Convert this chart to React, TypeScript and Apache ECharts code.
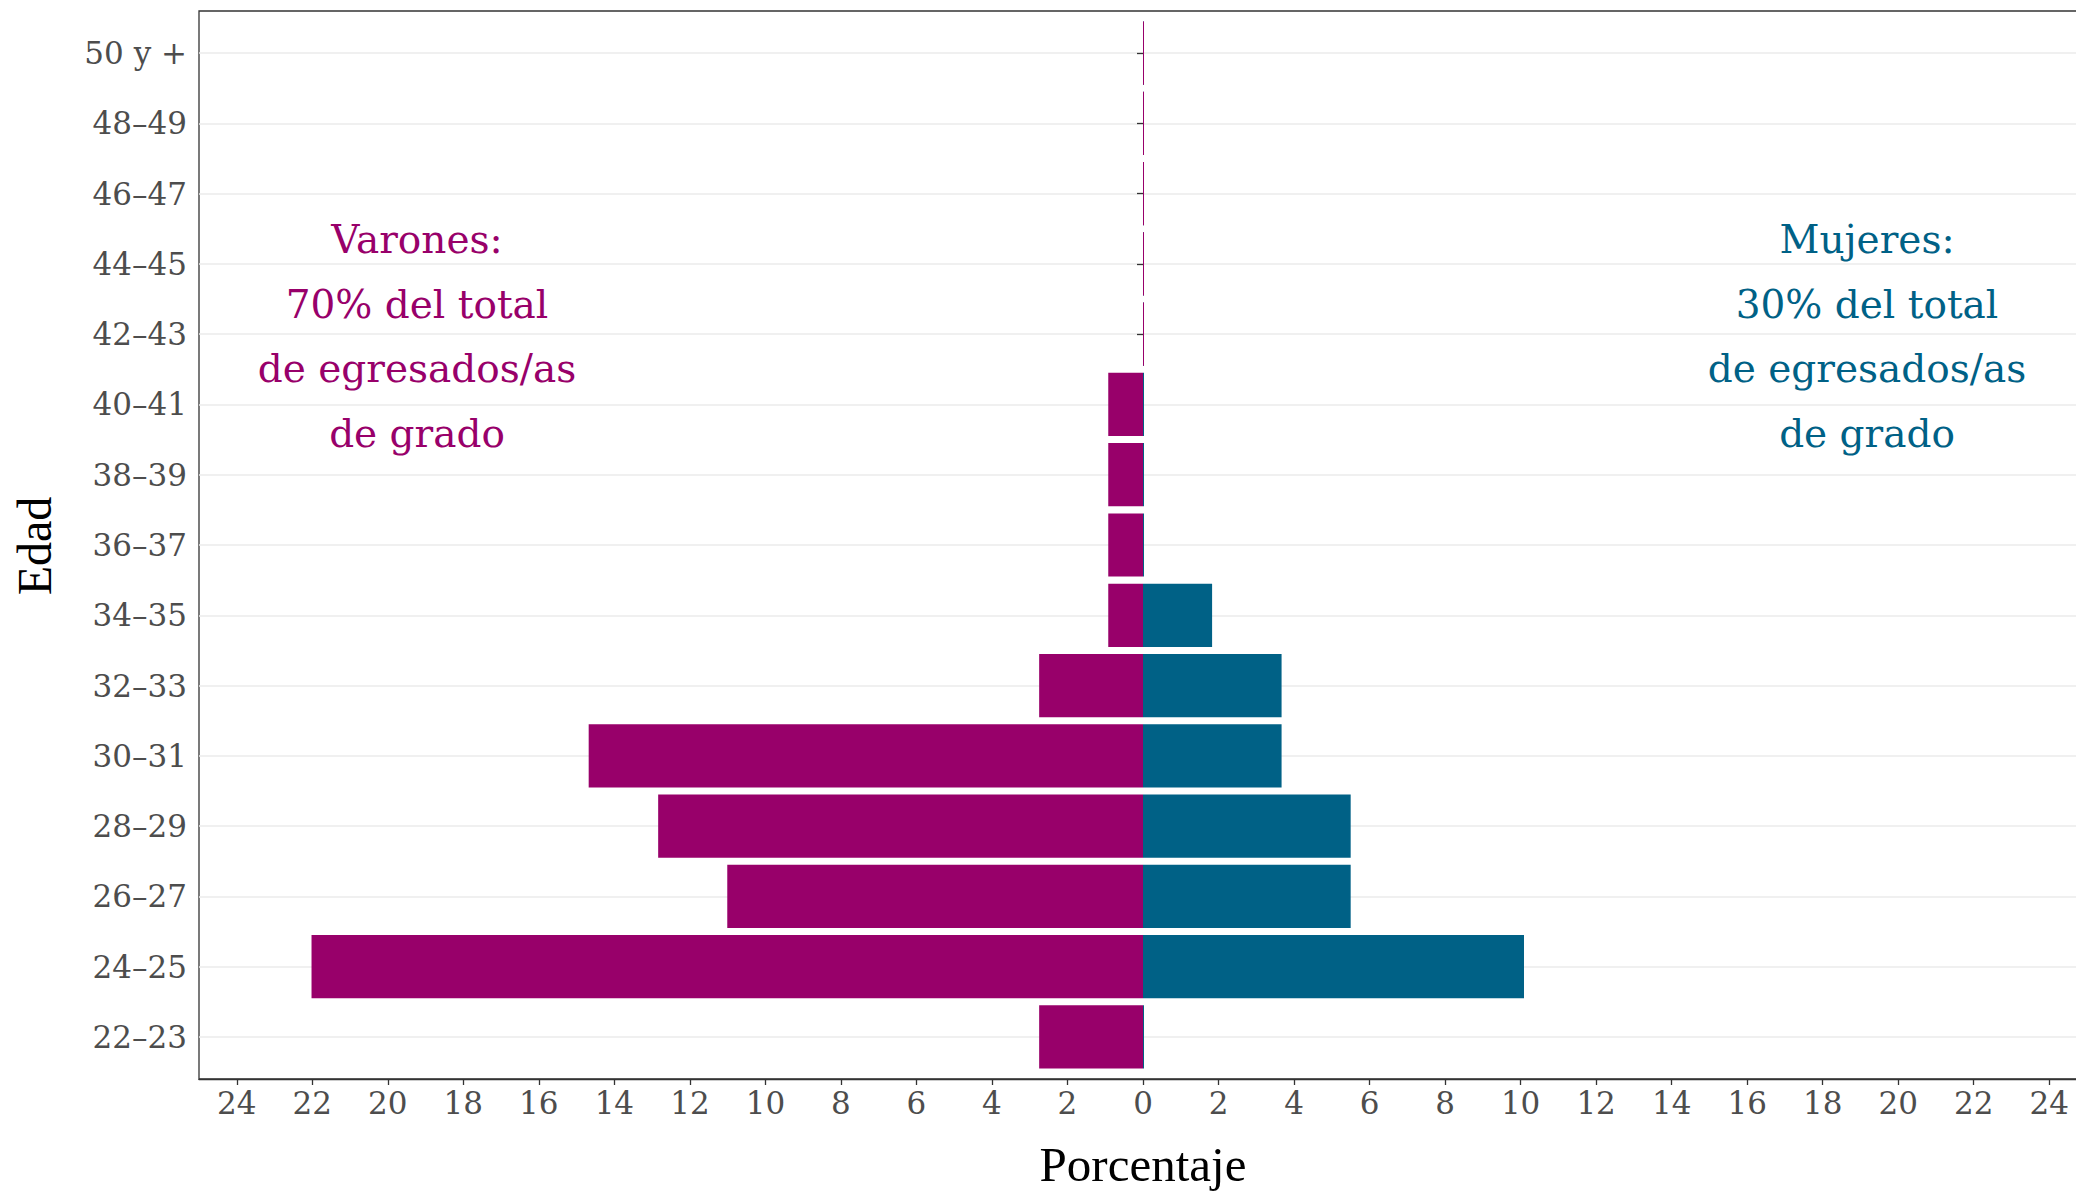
import React, { useEffect, useRef } from "react";
import * as echarts from "echarts";

const ageGroups = [
  "22–23", "24–25", "26–27", "28–29", "30–31", "32–33", "34–35",
  "36–37", "38–39", "40–41", "42–43", "44–45", "46–47", "48–49", "50 y +",
];
const varones = [2.75, 22.02, 11.01, 12.84, 14.68, 2.75, 0.92, 0.92, 0.92, 0.92, 0, 0, 0, 0, 0];
const mujeres = [0, 10.09, 5.5, 5.5, 3.67, 3.67, 1.83, 0, 0, 0, 0, 0, 0, 0, 0];
const xTickValues = [-24, -22, -20, -18, -16, -14, -12, -10, -8, -6, -4, -2, 0, 2, 4, 6, 8, 10, 12, 14, 16, 18, 20, 22, 24];
const annotationVarones = ["Varones:", "70% del total", "de egresados/as", "de grado"];
const annotationMujeres = ["Mujeres:", "30% del total", "de egresados/as", "de grado"];

const MAGENTA = "#98006A";
const TEAL = "#006186";
const TICK_FONT = "DejaVu Serif";
const TITLE_FONT = "Liberation Serif";

const WIDTH = 2092;
const HEIGHT = 1195;

export default function App() {
  const ref = useRef<HTMLDivElement>(null);
  useEffect(() => {
    if (!ref.current) return;
    document.documentElement.style.overflow = "hidden";
    document.body.style.overflow = "hidden";
    const chart = echarts.init(ref.current, null, { renderer: "svg" });
    const frameTop = 11;
    const frameBottom = 116;
    const right = WIDTH - 2087;
    const unit = (HEIGHT - frameTop - frameBottom) / 15.2;
    const labelStyle = { fontFamily: TICK_FONT, fontSize: 31, color: "#4D4D4D" };
    chart.setOption({
      animation: false,
      backgroundColor: "#ffffff",
      grid: [
        { left: 199, right, top: frameTop, bottom: frameBottom, show: true, borderColor: "#333333", borderWidth: 1.3, backgroundColor: "transparent" },
        { left: 199, right, top: frameTop + 0.1 * unit, bottom: frameBottom + 0.1 * unit },
        { left: 199, right, top: frameTop + 0.6 * unit, bottom: frameBottom + 0.6 * unit },
      ],
      xAxis: [
        {
          gridIndex: 0, type: "value", min: -25, max: 25, position: "bottom",
          axisLine: { show: true, onZero: false, lineStyle: { color: "#333333", width: 1.3 } },
          axisTick: { show: true, customValues: xTickValues, length: 6, lineStyle: { color: "#333333", width: 1.3 } },
          axisLabel: { show: true, customValues: xTickValues, margin: 8, formatter: (v: number) => String(Math.abs(v)), ...labelStyle },
          splitLine: { show: false },
        },
        { gridIndex: 1, type: "value", min: -25, max: 25, show: false },
        { gridIndex: 2, type: "value", min: -25, max: 25, show: false },
      ],
      yAxis: [
        { gridIndex: 0, type: "value", min: 0, max: 1, show: false },
        {
          gridIndex: 1, type: "category", data: ageGroups,
          axisLine: { show: false },
          axisTick: { show: true, alignWithLabel: true, length: 6, lineStyle: { color: "#333333", width: 1.3 } },
          axisLabel: { margin: 12, ...labelStyle },
          splitLine: { show: false },
        },
        {
          gridIndex: 2, type: "value", min: 0, max: 14, interval: 1,
          axisLine: { show: false }, axisTick: { show: false }, axisLabel: { show: false },
          splitLine: { show: true, lineStyle: { color: "#EBEBEB", width: 1.6 } },
        },
      ],
      series: [
        {
          type: "bar", name: "Mujeres", xAxisIndex: 1, yAxisIndex: 1, data: mujeres,
          barWidth: "90%", barGap: "-100%", barMinHeight: 1, itemStyle: { color: TEAL },
        },
        {
          type: "bar", name: "Varones", xAxisIndex: 1, yAxisIndex: 1, data: varones.map((v) => -v),
          barWidth: "90%", barGap: "-100%", barMinHeight: 1, itemStyle: { color: MAGENTA },
        },
      ],
      graphic: [
        {
          type: "text", x: 1143, y: 1164,
          style: { text: "Porcentaje", fontFamily: TITLE_FONT, fontSize: 49, fill: "#000000", textAlign: "center", textVerticalAlign: "middle" },
        },
        {
          type: "text", x: 34, y: 546, rotation: Math.PI / 2,
          style: { text: "Edad", fontFamily: TITLE_FONT, fontSize: 48, fill: "#000000", textAlign: "center", textVerticalAlign: "middle" },
        },
        {
          type: "text", x: 417, y: 336.5,
          style: { text: annotationVarones.join("\n"), fontFamily: TICK_FONT, fontSize: 39, lineHeight: 64.5, fill: MAGENTA, textAlign: "center", textVerticalAlign: "middle" },
        },
        {
          type: "text", x: 1867, y: 336.5,
          style: { text: annotationMujeres.join("\n"), fontFamily: TICK_FONT, fontSize: 39, lineHeight: 64.5, fill: TEAL, textAlign: "center", textVerticalAlign: "middle" },
        },
      ],
    });
    return () => chart.dispose();
  }, []);
  return <div ref={ref} style={{ position: "fixed", left: 0, top: 0, width: WIDTH, height: HEIGHT }} />;
}
